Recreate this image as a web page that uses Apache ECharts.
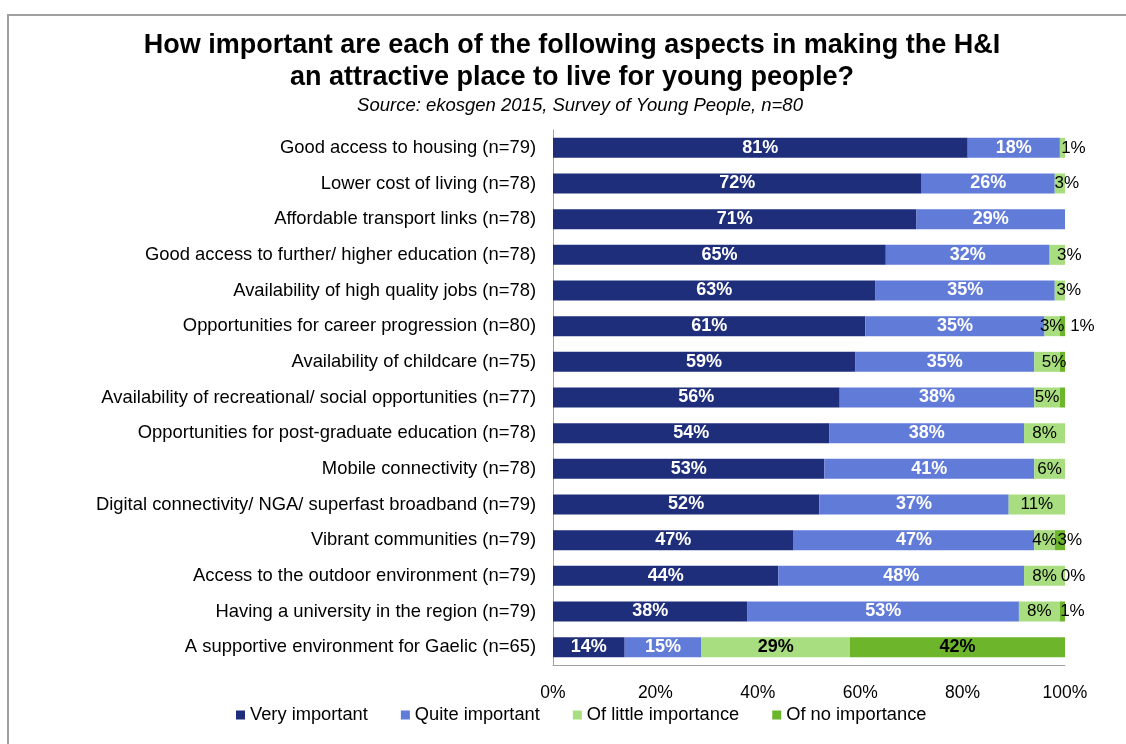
<!DOCTYPE html>
<html>
<head>
<meta charset="utf-8">
<script src="https://cdn.jsdelivr.net/npm/echarts@6/dist/echarts.min.js"></script>
<style>
  html, body { margin: 0; padding: 0; background: #fff; }
  #chart { width: 1126px; height: 744px; }
</style>
</head>
<body>
<div id="chart"></div>
<script>
// Survey aspects, top to bottom
const categories = [
  'Good access to housing (n=79)',
  'Lower cost of living (n=78)',
  'Affordable transport links (n=78)',
  'Good access to further/ higher education (n=78)',
  'Availability of high quality jobs (n=78)',
  'Opportunities for career progression (n=80)',
  'Availability of childcare (n=75)',
  'Availability of recreational/ social opportunities (n=77)',
  'Opportunities for post-graduate education (n=78)',
  'Mobile connectivity (n=78)',
  'Digital connectivity/ NGA/ superfast broadband (n=79)',
  'Vibrant communities (n=79)',
  'Access to the outdoor environment (n=79)',
  'Having a university in the region (n=79)',
  'A supportive environment for Gaelic (n=65)'
];

// Share of respondents (%) per answer
const veryImportant    = [81, 72, 71, 65, 63, 61, 59, 56, 54, 53, 52, 47, 44, 38, 14];
const quiteImportant   = [18, 26, 29, 32, 35, 35, 35, 38, 38, 41, 37, 47, 48, 53, 15];
const littleImportance = [1, 3, null, 3, 3, 3, 5, 5, 8, 6, 11, 4, 8, 8, 29];
const noImportance     = [null, null, null, null, null, 1, 1, 1, null, null, null, 3, 0, 1, 42];

const xTicks = [0, 20, 40, 60, 80, 100];

// Label placement tweaks for the narrow green segments (pixel nudges)
const littleNudge = { 0: 11, 1: 7, 3: 12, 4: 9, 6: 7 };
const noneNudge = { 5: 20, 11: 10, 12: 8, 13: 10 };
const noneUnlabelled = [6, 7];
const boldRow = 14;

const FONT = '"Liberation Sans", Arial, sans-serif';
const colors = ['#1f2e7b', '#617bd9', '#a9de80', '#6db52b'];

function items(values, nudge, hidden, dark) {
  return values.map((v, i) => {
    const item = { value: v };
    const label = {};
    if (nudge && nudge[i] !== undefined) label.offset = [nudge[i], 0];
    if (hidden && hidden.indexOf(i) >= 0) label.show = false;
    if (!dark && i === boldRow) { label.fontWeight = 'bold'; label.fontSize = 18; }
    item.label = label;
    return item;
  });
}

function series(name, values, color, dark, nudge, hidden) {
  return {
    name: name,
    type: 'bar',
    stack: 'total',
    barWidth: 20,
    itemStyle: { color: color },
    label: {
      show: true,
      position: 'inside',
      color: dark ? '#ffffff' : '#000000',
      fontFamily: FONT,
      fontSize: dark ? 18 : 17,
      fontWeight: dark ? 'bold' : 'normal',
      formatter: p => (p.value === null || p.value === undefined) ? '' : p.value + '%'
    },
    emphasis: { disabled: true },
    data: items(values, nudge, hidden, dark)
  };
}

const chart = echarts.init(document.getElementById('chart'), null, { renderer: 'canvas' });
chart.setOption({
  animation: false,
  backgroundColor: '#ffffff',
  graphic: [{
    type: 'rect',
    shape: { x: 8, y: 15, width: 1300, height: 900 },
    style: { fill: 'none', stroke: '#a0a0a0', lineWidth: 2 },
    z: -1
  }],
  title: [{
    text: 'How important are each of the following aspects in making the H&I\nan attractive place to live for young people?',
    left: 567,
    top: 25,
    textAlign: 'center',
    textStyle: { fontFamily: FONT, fontSize: 27, fontWeight: 'bold', color: '#000', lineHeight: 32 }
  }, {
    text: 'Source: ekosgen 2015, Survey of Young People, n=80',
    left: 575,
    top: 91,
    textAlign: 'center',
    textStyle: { fontFamily: FONT, fontSize: 18.5, fontStyle: 'italic', fontWeight: 'normal', color: '#000' }
  }],
  legend: {
    bottom: 15,
    left: 231,
    icon: 'rect',
    itemWidth: 9,
    itemHeight: 9,
    itemGap: 33,
    textStyle: { fontFamily: FONT, fontSize: 18.3, color: '#000' },
    data: ['Very important', 'Quite important', 'Of little importance', 'Of no importance']
  },
  grid: { left: 553, right: 61, top: 130, bottom: 79, containLabel: false },
  xAxis: {
    type: 'value',
    min: xTicks[0],
    max: xTicks[xTicks.length - 1],
    interval: 20,
    axisLine: { show: true, lineStyle: { color: '#a0a0a0', width: 1 } },
    axisTick: { show: false },
    splitLine: { show: false },
    axisLabel: { fontFamily: FONT, fontSize: 17.5, color: '#000', margin: 19, formatter: '{value}%' }
  },
  yAxis: {
    type: 'category',
    inverse: true,
    data: categories,
    axisLine: { show: true, lineStyle: { color: '#a0a0a0', width: 1 } },
    axisTick: { show: false },
    axisLabel: { fontFamily: FONT, fontSize: 18.4, color: '#000', margin: 17, padding: [3, 0, 0, 0] }
  },
  series: [
    series('Very important', veryImportant, colors[0], true),
    series('Quite important', quiteImportant, colors[1], true),
    series('Of little importance', littleImportance, colors[2], false, littleNudge),
    series('Of no importance', noImportance, colors[3], false, noneNudge, noneUnlabelled)
  ]
});
</script>
</body>
</html>
